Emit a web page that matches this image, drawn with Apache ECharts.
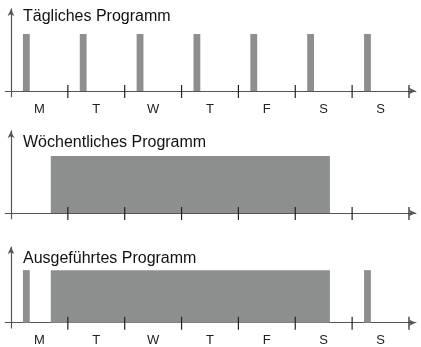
<!DOCTYPE html>
<html>
<head>
<meta charset="utf-8">
<script src="https://cdn.jsdelivr.net/npm/echarts@6/dist/echarts.min.js"></script>
<style>
  html, body { margin: 0; padding: 0; background: #fff; }
  #chart { width: 421px; height: 347px; }
</style>
</head>
<body>
<div id="chart"></div>
<script>
// days of the week (x in days, 0 = Monday 00:00)
const dayLabels = ['M', 'T', 'W', 'T', 'F', 'S', 'S'];
const dayCenters = [0.5, 1.5, 2.5, 3.5, 4.5, 5.5, 6.5];
const tickDays = [1, 2, 3, 4, 5, 6, 7];
const panelTitles = ['Tägliches Programm', 'Wöchentliches Programm', 'Ausgeführtes Programm'];

// [start, end, height]
const dailyRuns = [
    [0.21, 0.33, 1], [1.21, 1.33, 1], [2.21, 2.33, 1], [3.21, 3.33, 1],
    [4.21, 4.33, 1], [5.21, 5.33, 1], [6.21, 6.33, 1]
];
const weeklyRuns = [
    [0.70, 5.61, 1]
];
const executedRuns = [
    [0.21, 0.33, 1], [0.70, 5.61, 1], [6.21, 6.33, 1]
];

const barColor = '#8c8f8e';
const axisColor = '#555';

const grids = [
    { left: 5.3, right: 5.2, top: 8.9, bottom: 250.3 },
    { left: 5.3, right: 5.2, top: 130.9, bottom: 128.3 },
    { left: 5.3, right: 5.2, top: 247, bottom: 12.3 }
];
const showLabels = [true, false, true];
const titleTops = [9, 135, 251];

function rectItem(params, api) {
    const p0 = api.coord([api.value(0), api.value(2)]);
    const p1 = api.coord([api.value(1), 0]);
    return {
        type: 'rect',
        shape: { x: p0[0], y: p0[1], width: p1[0] - p0[0], height: p1[1] - p0[1] },
        style: { fill: barColor }
    };
}

function tickItem(params, api) {
    const p = api.coord([api.value(0), 0]);
    return {
        type: 'line',
        shape: { x1: p[0], y1: p[1] - 6, x2: p[0], y2: p[1] + 7 },
        style: { stroke: '#222', lineWidth: 1.2 }
    };
}

const xAxes = grids.map((g, i) => ({
    type: 'value',
    gridIndex: i,
    min: -0.1,
    max: 7.12,
    splitLine: { show: false },
    axisTick: { show: false },
    axisLine: {
        onZero: true,
        symbol: ['none', 'arrow'],
        symbolSize: [5, 7],
        lineStyle: { color: axisColor, width: 1.2 }
    },
    axisLabel: {
        show: showLabels[i],
        customValues: dayCenters,
        margin: 6,
        color: '#222',
        fontSize: 13,
        fontFamily: 'Liberation Sans',
        formatter: v => dayLabels[Math.floor(v)]
    }
}));

const yAxes = grids.map((g, i) => ({
    type: 'value',
    gridIndex: i,
    min: -0.1,
    max: 1.44,
    splitLine: { show: false },
    axisTick: { show: false },
    axisLabel: { show: false },
    axisLine: {
        show: true,
        onZero: true,
        symbol: ['none', 'arrow'],
        symbolSize: [5, 7],
        lineStyle: { color: axisColor, width: 1.2 }
    }
}));

const runSets = [dailyRuns, weeklyRuns, executedRuns];
const series = [];
runSets.forEach((runs, i) => {
    series.push({
        type: 'custom',
        xAxisIndex: i,
        yAxisIndex: i,
        renderItem: rectItem,
        encode: { x: [0, 1], y: 2 },
        data: runs,
        z: 2,
        silent: true
    });
    series.push({
        type: 'custom',
        xAxisIndex: i,
        yAxisIndex: i,
        renderItem: tickItem,
        encode: { x: 0 },
        data: tickDays.map(d => [d]),
        z: 5,
        silent: true
    });
});

const chart = echarts.init(document.getElementById('chart'));
chart.setOption({
    animation: false,
    backgroundColor: '#fff',
    title: panelTitles.map((t, i) => ({
        text: t,
        left: 23,
        top: titleTops[i],
        padding: 0,
        textStyle: { fontSize: 16, fontWeight: 'normal', color: '#111', fontFamily: 'Liberation Sans' }
    })),
    grid: grids,
    xAxis: xAxes,
    yAxis: yAxes,
    series: series
});
</script>
</body>
</html>
